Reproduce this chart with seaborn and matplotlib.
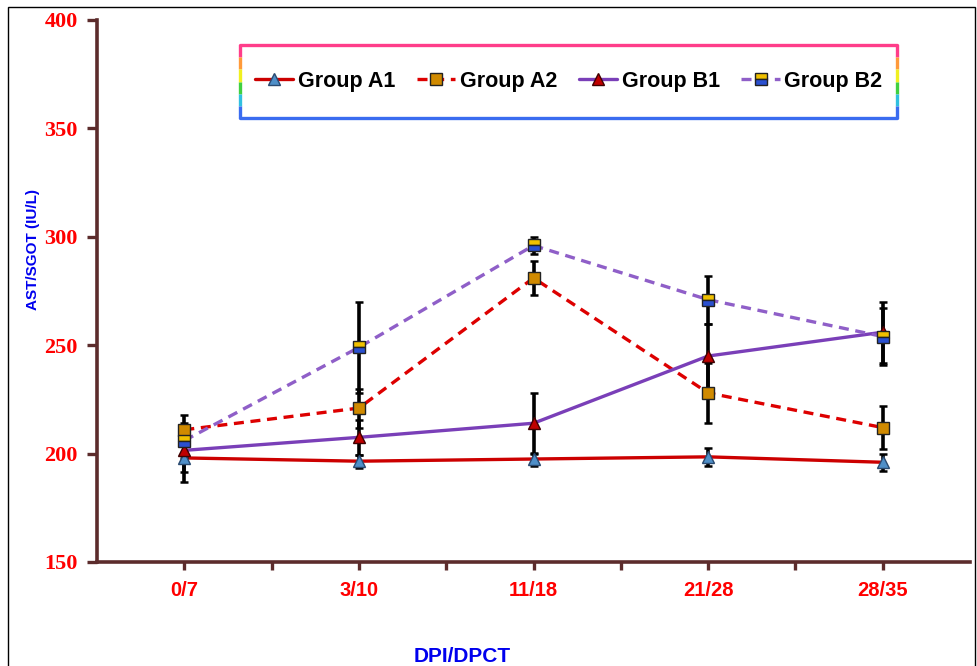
import matplotlib
matplotlib.use("Agg")
import matplotlib.pyplot as plt
from matplotlib.lines import Line2D
from matplotlib.patches import Rectangle
import seaborn as sns
import pandas as pd

# ── data ──────────────────────────────────────────────────
days = ["0/7", "3/10", "11/18", "21/28", "28/35"]
a1 = [198, 196.5, 197.5, 198.5, 196]
a1_err = [11, 3, 3, 4, 4]
a2 = [211, 221, 281, 228, 212]
a2_err = [7, 9, 8, 14, 10]
b1 = [201.5, 207.5, 214, 245, 256]
b1_err = [10, 8, 14, 15, 14]
b2 = [206, 249, 296, 271, 254]
b2_err = [8, 21, 4, 11, 13]

groups = ["Group A1", "Group A2", "Group B1", "Group B2"]
values = [a1, a2, b1, b2]
errors = [a1_err, a2_err, b1_err, b2_err]

rows = []
for g, v, e in zip(groups, values, errors):
    for i, (val, err) in enumerate(zip(v, e)):
        rows.append({"group": g, "pos": i, "day": days[i], "value": val, "err": err})
df = pd.DataFrame(rows)

# ── styles ───────────────────────────────────────────────
STYLE = {
    "Group A1": dict(color="#cc0000", ls="-", marker="^", mfc="#4f8fc8", mec="#2a4a70", alt=None),
    "Group A2": dict(color="#dd0000", ls=(0, (3, 2)), marker="s", mfc="#d08a00", mec="#222222", alt=None),
    "Group B1": dict(color="#7a3fb8", ls="-", marker="^", mfc="#c00000", mec="#400000", alt=None),
    "Group B2": dict(color="#8f5fc8", ls=(0, (3, 2)), marker="s", mfc="#f0c000", mec="#222222", alt="#2a50d0"),
}
AXIS_COL = "#5c2c2c"

sns.set_theme(style="white")
plt.rcParams["font.family"] = ["Liberation Sans", "DejaVu Sans"]
plt.rcParams["text.color"] = "black"

fig = plt.figure(figsize=(9.77, 6.66), dpi=100)
ax = fig.add_axes([97 / 977, 1 - 562 / 666, (970 - 97) / 977, (562 - 20) / 666])

for g in groups:
    st = STYLE[g]
    sub = df[df["group"] == g]
    # connecting line
    sns.lineplot(data=sub, x="pos", y="value", ax=ax, color=st["color"],
                 linestyle=st["ls"], linewidth=2.4, zorder=2, legend=False,
                 errorbar=None)

for g in groups:
    sub = df[df["group"] == g]
    ax.errorbar(sub["pos"], sub["value"], yerr=sub["err"], fmt="none",
                ecolor="black", elinewidth=2.6, capsize=3, capthick=1.8, zorder=3)

for g in groups:
    st = STYLE[g]
    sub = df[df["group"] == g]
    kw = dict(marker=st["marker"], markersize=8, markerfacecolor=st["mfc"],
              markeredgecolor=st["mec"], markeredgewidth=1.0)
    if st["alt"]:
        kw.update(fillstyle="top", markerfacecoloralt=st["alt"])
    ax.plot(sub["pos"], sub["value"], linestyle="none", zorder=4, **kw)

# ── axes ────────────────────────────────────────────────
ax.set_xlim(-0.5, len(days) - 0.5)
ax.set_ylim(150, 400)
ax.set_xticks(range(len(days)))
ax.set_xticklabels(days)
ax.set_xticks([i + 0.5 for i in range(len(days) - 1)], minor=True)
ax.set_yticks(range(150, 401, 50))
ax.set_xlabel("")
ax.set_ylabel("")

for side in ["top", "right"]:
    ax.spines[side].set_visible(False)
for side in ["left", "bottom"]:
    ax.spines[side].set_color(AXIS_COL)
    ax.spines[side].set_linewidth(2.6)

ax.tick_params(axis="y", which="major", direction="out", length=7, width=2.4,
               color=AXIS_COL, left=True, pad=7, labelcolor="#ff0000")
ax.tick_params(axis="x", which="both", direction="out", length=6, width=2.4,
               color=AXIS_COL, bottom=True, pad=8, labelcolor="#ff0000")
for lbl in ax.get_yticklabels():
    lbl.set_fontfamily(["Liberation Serif", "DejaVu Serif"])
    lbl.set_fontweight("bold")
    lbl.set_fontsize(16)
for lbl in ax.get_xticklabels():
    lbl.set_fontweight("bold")
    lbl.set_fontsize(14.5)

ax.grid(False)

# axis titles
fig.text(462 / 977, 1 - 657 / 666, "DPI/DPCT", color="#0000ee", fontsize=15,
         fontweight="bold", ha="center", va="center")
fig.text(33 / 977, 1 - 250 / 666, "AST/SGOT (IU/L)", color="#0000ee", fontsize=11,
         fontweight="bold", ha="center", va="center", rotation=90)

# ── legend with a rainbow frame ──────────────────────────
handles = []
for g in groups:
    st = STYLE[g]
    kw = dict(marker=st["marker"], markersize=8, markerfacecolor=st["mfc"],
              markeredgecolor=st["mec"], markeredgewidth=1.0)
    if st["alt"]:
        kw.update(fillstyle="top", markerfacecoloralt=st["alt"])
    handles.append(Line2D([0], [0], color=st["color"], linestyle=st["ls"],
                          linewidth=2.4, **kw))
lx0, lx1 = (240 - 97) / 873, (897 - 97) / 873
ly0, ly1 = (562 - 118) / 542, (562 - 45) / 542
leg = ax.legend(handles, groups, loc="center", ncol=4, frameon=False,
                bbox_to_anchor=(lx0, ly0, lx1 - lx0, ly1 - ly0),
                prop={"weight": "bold", "size": 15.5}, handlelength=1.8,
                handletextpad=0.2, columnspacing=1.0, labelcolor="black")

tr = ax.transAxes
ax.plot([lx0, lx1], [ly1, ly1], color="#ff3d8a", lw=2.4, transform=tr, clip_on=False, zorder=5)
ax.plot([lx0, lx1], [ly0, ly0], color="#3a6cf0", lw=2.4, transform=tr, clip_on=False, zorder=5)
side_cols = ["#ff3d8a", "#ff9a3a", "#f0f020", "#40d040", "#30c0e0", "#3a6cf0"]
n = len(side_cols)
for x in (lx0, lx1):
    for k, c in enumerate(side_cols):
        ya = ly1 - (ly1 - ly0) * k / n
        yb = ly1 - (ly1 - ly0) * (k + 1) / n
        ax.plot([x, x], [ya, yb], color=c, lw=2.4, transform=tr,
                clip_on=False, zorder=5, solid_capstyle="butt")

# outer frame of the picture
fig.patches.append(Rectangle((8 / 977, -0.05), (975 - 8) / 977, 1.05 - 7 / 666,
                             transform=fig.transFigure, fill=False,
                             edgecolor="black", linewidth=1.0))

fig.savefig("out.png", dpi=100)
